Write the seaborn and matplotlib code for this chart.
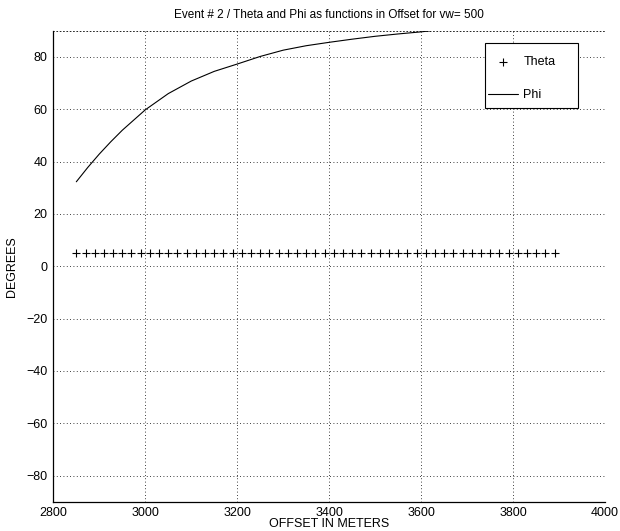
import matplotlib
matplotlib.use("Agg")
import matplotlib.pyplot as plt
import pandas as pd
import seaborn as sns
from matplotlib.patches import Rectangle


# Theta: one value per offset (m)
THETA_OFFSET = [
    2850, 2870, 2890, 2910, 2930, 2950, 2970, 2990, 3010, 3030,
    3050, 3070, 3090, 3110, 3130, 3150, 3170, 3190, 3210, 3230,
    3250, 3270, 3290, 3310, 3330, 3350, 3370, 3390, 3410, 3430,
    3450, 3470, 3490, 3510, 3530, 3550, 3570, 3590, 3610, 3630,
    3650, 3670, 3690, 3710, 3730, 3750, 3770, 3790, 3810, 3830,
    3850, 3870, 3890,
]
THETA_DEG = [
    5, 5, 5, 5, 5, 5, 5, 5, 5, 5,
    5, 5, 5, 5, 5, 5, 5, 5, 5, 5,
    5, 5, 5, 5, 5, 5, 5, 5, 5, 5,
    5, 5, 5, 5, 5, 5, 5, 5, 5, 5,
    5, 5, 5, 5, 5, 5, 5, 5, 5, 5,
    5, 5, 5,
]

# Phi
PHI_OFFSET = [2850, 2875, 2900, 2925, 2950, 3000, 3050, 3100, 3150, 3200, 3250,
              3300, 3350, 3400, 3450, 3500, 3550, 3600, 3620]
PHI_DEG = [32.3, 37.8, 42.9, 47.6, 52.0, 59.8, 66.0, 70.8, 74.5, 77.3, 80.2,
           82.6, 84.3, 85.6, 86.8, 87.9, 88.8, 89.6, 90.0]

X_TICKS = [2800, 3000, 3200, 3400, 3600, 3800, 4000]
Y_TICKS = [-80, -60, -40, -20, 0, 20, 40, 60, 80]

TITLE = "Event # 2 / Theta and Phi as functions in Offset for vw= 500"

sns.set_style("white")
plt.rcParams["font.family"] = ["Liberation Sans", "DejaVu Sans"]
plt.rcParams["text.color"] = "black"
plt.rcParams["axes.labelcolor"] = "black"

theta_df = pd.DataFrame({"offset": THETA_OFFSET, "deg": THETA_DEG})
phi_df = pd.DataFrame({"offset": PHI_OFFSET, "deg": PHI_DEG})

fig = plt.figure(figsize=(6.2, 5.31), dpi=100)
ax = fig.add_axes([0.086, 0.055, 0.89, 0.887])

sns.scatterplot(data=theta_df, x="offset", y="deg", marker="+", s=28,
                color="black", linewidth=0.8, label="Theta", ax=ax, zorder=3)
sns.lineplot(data=phi_df, x="offset", y="deg", color="black", linewidth=0.8,
             label="Phi", ax=ax, zorder=3)

ax.set_xlim(2800, 4000)
ax.set_ylim(-90, 90)
ax.set_xticks(X_TICKS)
ax.set_yticks(Y_TICKS)
ax.tick_params(axis="both", direction="in", length=4, width=0.8,
               labelsize=9, colors="black", pad=4)
ax.grid(True, linestyle=(0, (1, 3)), color="black", linewidth=0.6)

for side in ["left", "bottom"]:
    ax.spines[side].set_color("black")
    ax.spines[side].set_linewidth(0.9)
ax.spines["right"].set_visible(False)
ax.spines["top"].set_linestyle((0, (1, 3)))
ax.spines["top"].set_color("black")
ax.spines["top"].set_linewidth(0.6)

ax.set_title(TITLE, fontsize=8.5, pad=9, color="black")
ax.set_xlabel("OFFSET IN METERS", fontsize=9, labelpad=-1, color="black")
ax.set_ylabel("DEGREES", fontsize=9, labelpad=6, color="black")

leg = ax.legend(loc="upper left", bbox_to_anchor=(0.77, 0.968), frameon=False,
                fontsize=9, handlelength=2.4, handletextpad=0.4,
                labelspacing=1.7, borderpad=0.3)
for text in leg.get_texts():
    text.set_color("black")
ax.add_patch(Rectangle((0.7825, 0.837), 0.1675, 0.1375, transform=ax.transAxes,
                       facecolor="white", edgecolor="black", linewidth=0.8,
                       zorder=4))
leg.set_zorder(5)

fig.savefig("out.png", dpi=100)
